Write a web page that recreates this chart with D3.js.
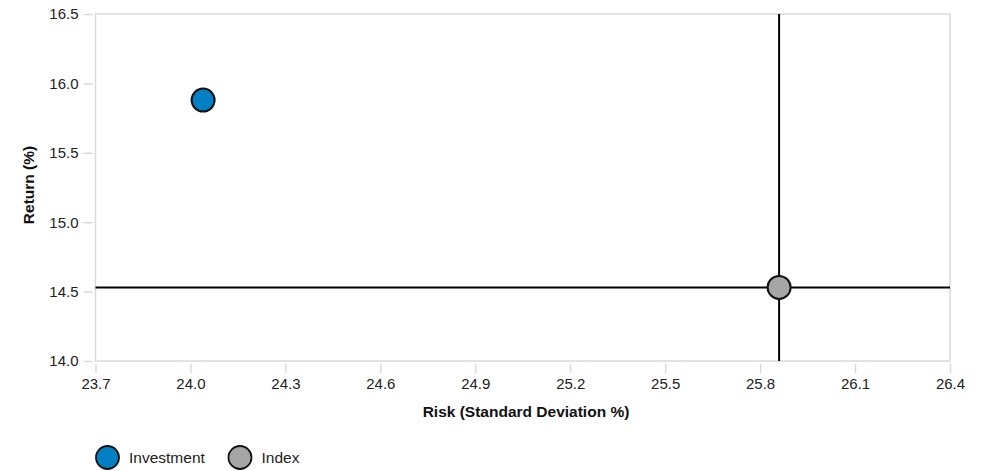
<!DOCTYPE html>
<html><head><meta charset="utf-8">
<script src="https://cdn.jsdelivr.net/npm/d3@7"></script>
<style>body{margin:0;background:#fff;font-family:"Liberation Sans",Arial,sans-serif;}</style>
</head><body><svg id="c" width="987" height="471"></svg>
<script>
const seriesNames = ["Investment", "Index"];
const riskValues = [24.04, 25.86];
const returnValues = [15.88, 14.53];
const seriesColors = ["#0380c4", "#a6a6a6"];
const xTicks = [23.7, 24.0, 24.3, 24.6, 24.9, 25.2, 25.5, 25.8, 26.1, 26.4];
const yTicks = [14.0, 14.5, 15.0, 15.5, 16.0, 16.5];
const xTitle = "Risk (Standard Deviation %)";
const yTitle = "Return (%)";

const FONT = "Liberation Sans, Arial, sans-serif";
const svg = d3.select("#c");
const L = 95.5, R = 950, T = 14, B = 361;
const x = d3.scaleLinear().domain([23.7, 26.4]).range([L, R]);
const y = d3.scaleLinear().domain([14.0, 16.5]).range([B, T]);

// frame
svg.append("rect").attr("x", L).attr("y", T).attr("width", R - L).attr("height", B - T)
  .attr("fill", "none").attr("stroke", "#d9d9d9").attr("stroke-width", 1.5);

// x axis
const xa = svg.append("g").attr("transform", `translate(0,${B + 3})`)
  .call(d3.axisBottom(x).tickValues(xTicks).tickFormat(d3.format(".1f")).tickSize(9).tickPadding(5));
xa.select(".domain").remove();
xa.selectAll(".tick line").attr("stroke", "#d9d9d9").attr("stroke-width", 1.5);
xa.selectAll(".tick text").style("font-size", "15px").attr("fill", "#222").style("font-family", FONT);

// y axis
const ya = svg.append("g").attr("transform", `translate(${L - 3},0)`)
  .call(d3.axisLeft(y).tickValues(yTicks).tickFormat(d3.format(".1f")).tickSize(9).tickPadding(5));
ya.select(".domain").remove();
ya.selectAll(".tick line").attr("stroke", "#d9d9d9").attr("stroke-width", 1.5);
ya.selectAll(".tick text").style("font-size", "15px").attr("fill", "#222").style("font-family", FONT);

// crosshair at index
svg.append("line").attr("x1", L).attr("x2", R).attr("y1", y(returnValues[1])).attr("y2", y(returnValues[1]))
  .attr("stroke", "#000").attr("stroke-width", 2);
svg.append("line").attr("x1", x(riskValues[1])).attr("x2", x(riskValues[1])).attr("y1", T).attr("y2", B)
  .attr("stroke", "#000").attr("stroke-width", 2);

// points
svg.selectAll("circle.pt").data(seriesNames).enter().append("circle").attr("class", "pt")
  .attr("cx", (d, i) => x(riskValues[i])).attr("cy", (d, i) => y(returnValues[i])).attr("r", 11.5)
  .attr("fill", (d, i) => seriesColors[i]).attr("stroke", "#111").attr("stroke-width", 2);

// titles
svg.append("text").attr("x", 526).attr("y", 417).attr("text-anchor", "middle")
  .style("font-size", "15.5px").style("font-family", FONT).attr("font-weight", "bold").attr("fill", "#111").text(xTitle);
svg.append("text").attr("transform", `translate(33.5,185) rotate(-90)`).attr("text-anchor", "middle")
  .style("font-size", "15.5px").style("font-family", FONT).attr("font-weight", "bold").attr("fill", "#111").text(yTitle);

// legend
const legX = [107.5, 240];
const lg = svg.selectAll("g.leg").data(seriesNames).enter().append("g").attr("class", "leg")
  .attr("transform", (d, i) => `translate(${legX[i]},457.5)`);
lg.append("circle").attr("r", 11.5).attr("fill", (d, i) => seriesColors[i]).attr("stroke", "#111").attr("stroke-width", 1.8);
lg.append("text").attr("x", 21.5).attr("y", 5.2).style("font-size", "15.5px").style("font-family", FONT).attr("fill", "#222").text(d => d);
</script></body></html>
